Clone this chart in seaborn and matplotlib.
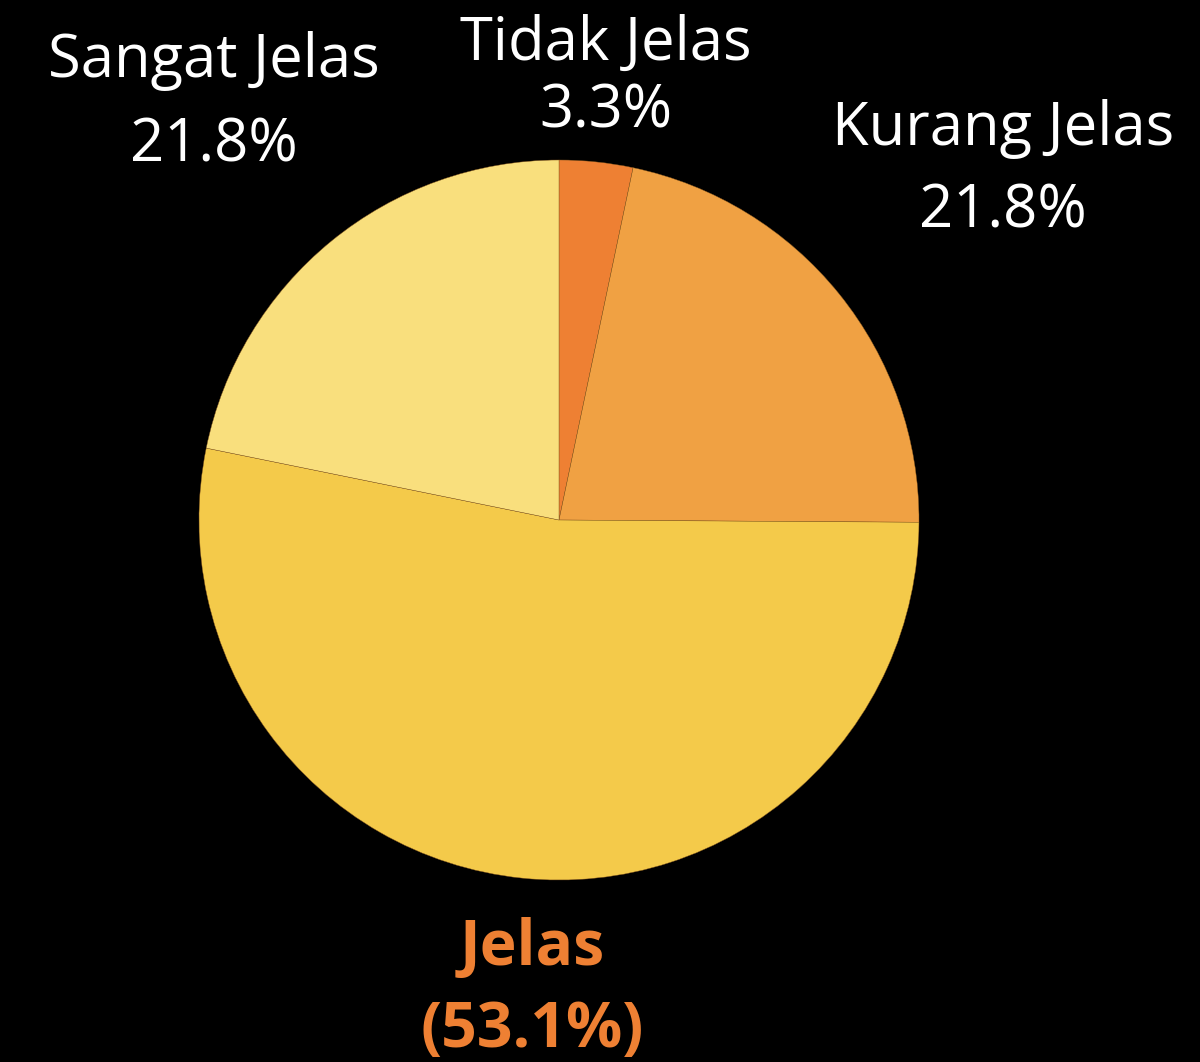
import seaborn as sns
import matplotlib.pyplot as plt

# data
labels = ['Tidak Jelas', 'Kurang Jelas', 'Jelas', 'Sangat Jelas']
values = [3.3, 21.8, 53.1, 21.8]
colors = ['#EE8033', '#F0A143', '#F4CA4A', '#F9DF7D']

sns.set_theme(style='white')
plt.rcParams['font.family'] = ['Open Sans', 'DejaVu Sans']

fig = plt.figure(figsize=(12, 10.62), dpi=100, facecolor='black')
ax = fig.add_axes([0, 0, 1, 1])
ax.set_facecolor('black')

# pie centered at (559, 520) px with radius 360 px
ax.pie(values, colors=colors, startangle=90, counterclock=False,
       wedgeprops=dict(edgecolor='#8a5a20', linewidth=0.3))
ax.set_xlim(-559 / 360, 641 / 360)
ax.set_ylim(-542 / 360, 520 / 360)
ax.set_aspect('equal')
ax.axis('off')


def px(x, y):
    return (x - 559) / 360, (520 - y) / 360


# label positions (pixel anchors, baseline)
pos = {
    'Tidak Jelas': (606, 60, 128),
    'Kurang Jelas': (1003, 145, 227),
    'Sangat Jelas': (214, 77, 162),
}
for lab, val in zip(labels, values):
    if lab == 'Jelas':
        continue
    x, y1, y2 = pos[lab]
    ax.text(*px(x, y1), lab, ha='center', va='baseline', color='white',
            fontsize=43)
    ax.text(*px(x, y2), f'{val}%', ha='center', va='baseline', color='white',
            fontsize=43)

ax.text(*px(532, 965), 'Jelas', ha='center', va='baseline', color='#EE8033',
        fontsize=45, fontweight='bold')
ax.text(*px(532, 1047), f'({values[2]}%)', ha='center', va='baseline',
        color='#EE8033', fontsize=45, fontweight='bold')

fig.savefig('out.png', dpi=100, facecolor='black')
